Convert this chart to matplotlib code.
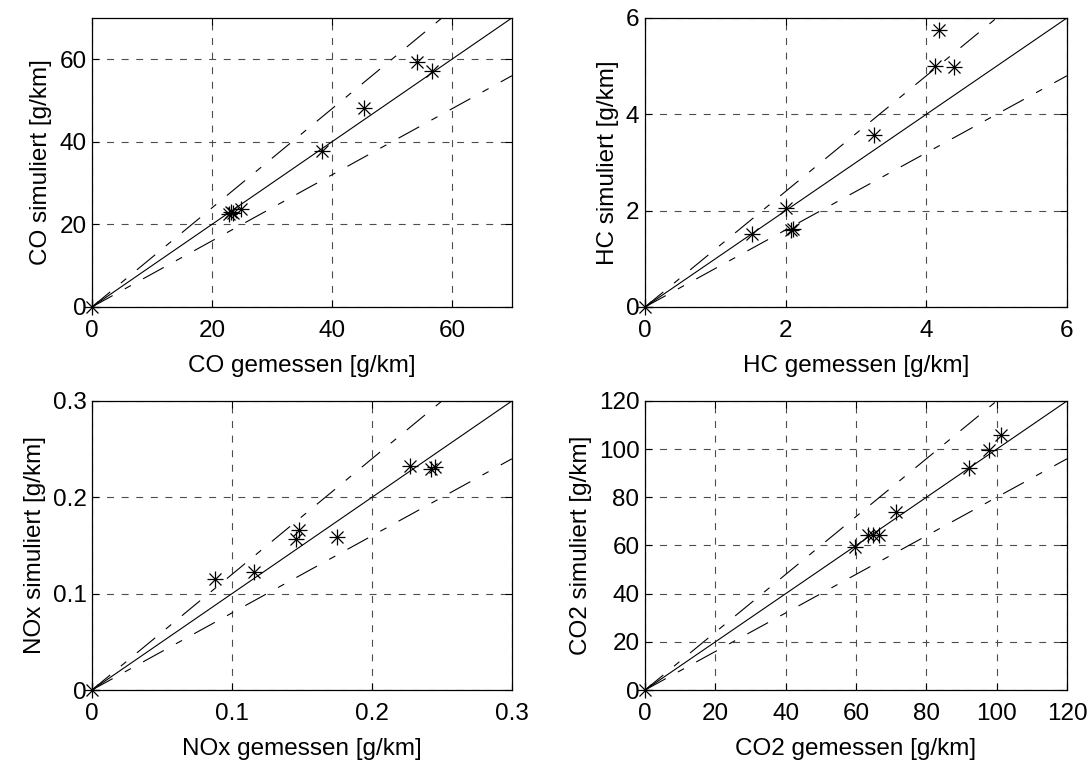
import matplotlib
matplotlib.use("Agg")
import matplotlib.pyplot as plt

plt.rcParams['font.family'] = ['Liberation Sans', 'DejaVu Sans']
plt.rcParams['lines.scale_dashes'] = False

# ---- data ----
co_meas = [0, 22.8, 23.2, 23.5, 24.9, 38.4, 45.4, 54.1, 56.7]
co_sim = [0, 22.5, 23.0, 22.8, 23.8, 37.7, 48.3, 59.4, 57.1]

hc_meas = [0, 1.52, 2.01, 2.07, 2.11, 3.25, 4.12, 4.18, 4.40]
hc_sim = [0, 1.52, 2.06, 1.60, 1.62, 3.56, 5.01, 5.74, 4.98]

nox_meas = [0, 0.088, 0.116, 0.148, 0.146, 0.175, 0.227, 0.242, 0.245]
nox_sim = [0, 0.115, 0.123, 0.166, 0.157, 0.159, 0.233, 0.229, 0.231]

co2_meas = [0, 59.6, 63.4, 64.9, 66.4, 71.5, 92.0, 97.7, 101.1]
co2_sim = [0, 59.3, 64.4, 64.4, 64.4, 73.9, 92.2, 99.6, 105.7]

limits = [70, 6, 0.3, 120]
ticks = [[0, 20, 40, 60], [0, 2, 4, 6], [0, 0.1, 0.2, 0.3], [0, 20, 40, 60, 80, 100, 120]]
xlabels = ["CO gemessen [g/km]", "HC gemessen [g/km]", "NOx gemessen [g/km]", "CO2 gemessen [g/km]"]
ylabels = ["CO simuliert [g/km]", "HC simuliert [g/km]", "NOx simuliert [g/km]", "CO2 simuliert [g/km]"]
upper_factor = 1.2
lower_factor = 0.8

meas = [co_meas, hc_meas, nox_meas, co2_meas]
sim = [co_sim, hc_sim, nox_sim, co2_sim]

fig = plt.figure(figsize=(10.92, 7.6), dpi=100)
positions = [
    [0.0842, 0.5961, 0.3846, 0.3803],
    [0.5907, 0.5961, 0.3864, 0.3803],
    [0.0842, 0.0921, 0.3846, 0.3803],
    [0.5907, 0.0921, 0.3864, 0.3803],
]

FS = 17.5
dashdot = (0, (17, 10, 5, 10))
for i in range(4):
    ax = fig.add_axes(positions[i])
    lim = limits[i]
    ax.set_xlim(0, lim)
    ax.set_ylim(0, lim)
    ax.plot([0, lim], [0, lim], color='black', linewidth=0.8)
    ax.plot([0, lim], [0, upper_factor * lim], color='black', linewidth=0.8, linestyle=dashdot)
    ax.plot([0, lim], [0, lower_factor * lim], color='black', linewidth=0.8, linestyle=dashdot)
    ax.plot(meas[i], sim[i], linestyle='none', marker='+', markersize=12,
            markeredgewidth=0.9, color='black', clip_on=False, zorder=5)
    ax.plot(meas[i], sim[i], linestyle='none', marker='x', markersize=8,
            markeredgewidth=0.9, color='black', clip_on=False, zorder=5)
    ax.set_xticks(ticks[i])
    ax.set_yticks(ticks[i])
    if i == 2:
        ax.set_xticklabels(['0', '0.1', '0.2', '0.3'])
        ax.set_yticklabels(['0', '0.1', '0.2', '0.3'])
    ax.grid(True, linestyle=(0, (5, 5.5)), color='0.3', linewidth=0.8)
    ax.tick_params(direction='in', top=True, right=True, length=5, width=0.8,
                   labelsize=FS, colors='black')
    ax.tick_params(axis='x', pad=9.5)
    ax.tick_params(axis='y', pad=4)
    for s in ax.spines.values():
        s.set_linewidth(0.9)
    ax.set_xlabel(xlabels[i], fontsize=FS, labelpad=9)
    ax.set_ylabel(ylabels[i], fontsize=FS, labelpad=5)

fig.savefig("out.png", dpi=100)
